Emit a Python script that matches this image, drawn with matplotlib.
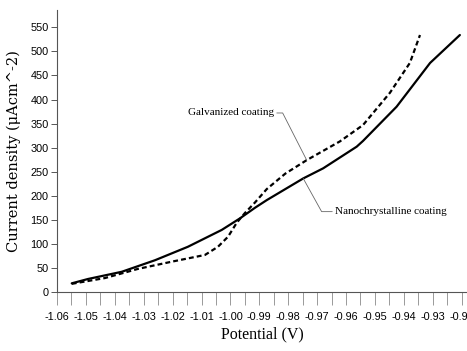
import numpy as np
import matplotlib
matplotlib.use("Agg")
import matplotlib.pyplot as plt
from matplotlib.ticker import MultipleLocator, FormatStrFormatter

# values (potential in V, current density in uA/cm^2)
nano_x = [-1.0549, -1.0493, -1.0376, -1.0261, -1.0147, -1.0030, -0.9967, -0.9915,
          -0.9874, -0.9748, -0.9679, -0.9563, -0.9541, -0.9425, -0.9309, -0.9206]
nano_y = [18, 27, 42, 66, 94, 129, 153, 175, 191, 236, 257, 302, 314, 385, 476, 534]

galv_x = [-1.0549, -1.0434, -1.0320, -1.0203, -1.0088, -1.0043, -1.0008, -0.9978,
          -0.9950, -0.9915, -0.9874, -0.9810, -0.9736, -0.9621, -0.9541, -0.9448,
          -0.9379, -0.9344]
galv_y = [17, 29, 48, 63, 77, 94, 115, 144, 164, 186, 214, 246, 274, 313, 347, 414,
          476, 534]

x_ticks = np.round(np.arange(-1.06, -0.915, 0.01), 2)
y_ticks = np.arange(0, 551, 50)

# figure / axes placed to match the reference pixels
fig = plt.figure(figsize=(4.67, 3.51), dpi=100)
ax = fig.add_axes([57 / 467, 59 / 351, 410 / 467, 282 / 351])

ax.plot(nano_x, nano_y, color="black", lw=1.6, solid_capstyle="round",
        solid_joinstyle="round")
ax.plot(galv_x, galv_y, color="black", lw=1.6, linestyle=(0, (2.2, 1.4)))

ax.set_xlim(-1.06, -1.06 + 410 / 2890)
ax.set_ylim(0, 586)

# spines
for s in ["top", "right"]:
    ax.spines[s].set_visible(False)
ax.spines["left"].set_color("#555555")
ax.spines["bottom"].set_color("#555555")
ax.spines["left"].set_linewidth(0.8)
ax.spines["bottom"].set_linewidth(0.8)

# ticks
tick_font = ["Liberation Sans", "DejaVu Sans"]
ax.set_xticks(x_ticks)
ax.xaxis.set_major_formatter(FormatStrFormatter("%.2f"))
ax.xaxis.set_minor_locator(MultipleLocator(0.005))
ax.tick_params(axis="x", which="both", direction="out", length=9.5, width=0.7,
               color="#999999", pad=5)
ax.set_yticks(y_ticks)
ax.tick_params(axis="y", direction="out", length=4, width=0.7, color="#555555", pad=2)
for lab in ax.get_xticklabels() + ax.get_yticklabels():
    lab.set_fontfamily(tick_font)
    lab.set_fontsize(7.8)

ax.set_xlabel("Potential (V)", family=["Liberation Serif", "DejaVu Serif"], fontsize=11.5,
              labelpad=3)
ax.set_ylabel("Current density (\u03bcAcm^-2)", family=["DejaVu Serif"], fontsize=10.5,
              labelpad=7)

# callout labels with leader lines
ann_font = ["Liberation Serif", "DejaVu Serif"]
ax.annotate("Galvanized coating", xy=(galv_x[12], galv_y[12]), xytext=(-0.9849, 372),
            ha="right", va="center", fontsize=8, family=ann_font,
            arrowprops=dict(arrowstyle="-", color="#666666", lw=0.6, shrinkA=0, shrinkB=0,
                            connectionstyle="angle,angleA=0,angleB=117,rad=0"))
ax.annotate("Nanochrystalline coating", xy=(nano_x[9], nano_y[9]), xytext=(-0.9638, 167),
            ha="left", va="center", fontsize=8, family=ann_font,
            arrowprops=dict(arrowstyle="-", color="#666666", lw=0.6, shrinkA=0, shrinkB=0,
                            connectionstyle="angle,angleA=0,angleB=-61,rad=0"))

fig.savefig("out.png", dpi=100)
